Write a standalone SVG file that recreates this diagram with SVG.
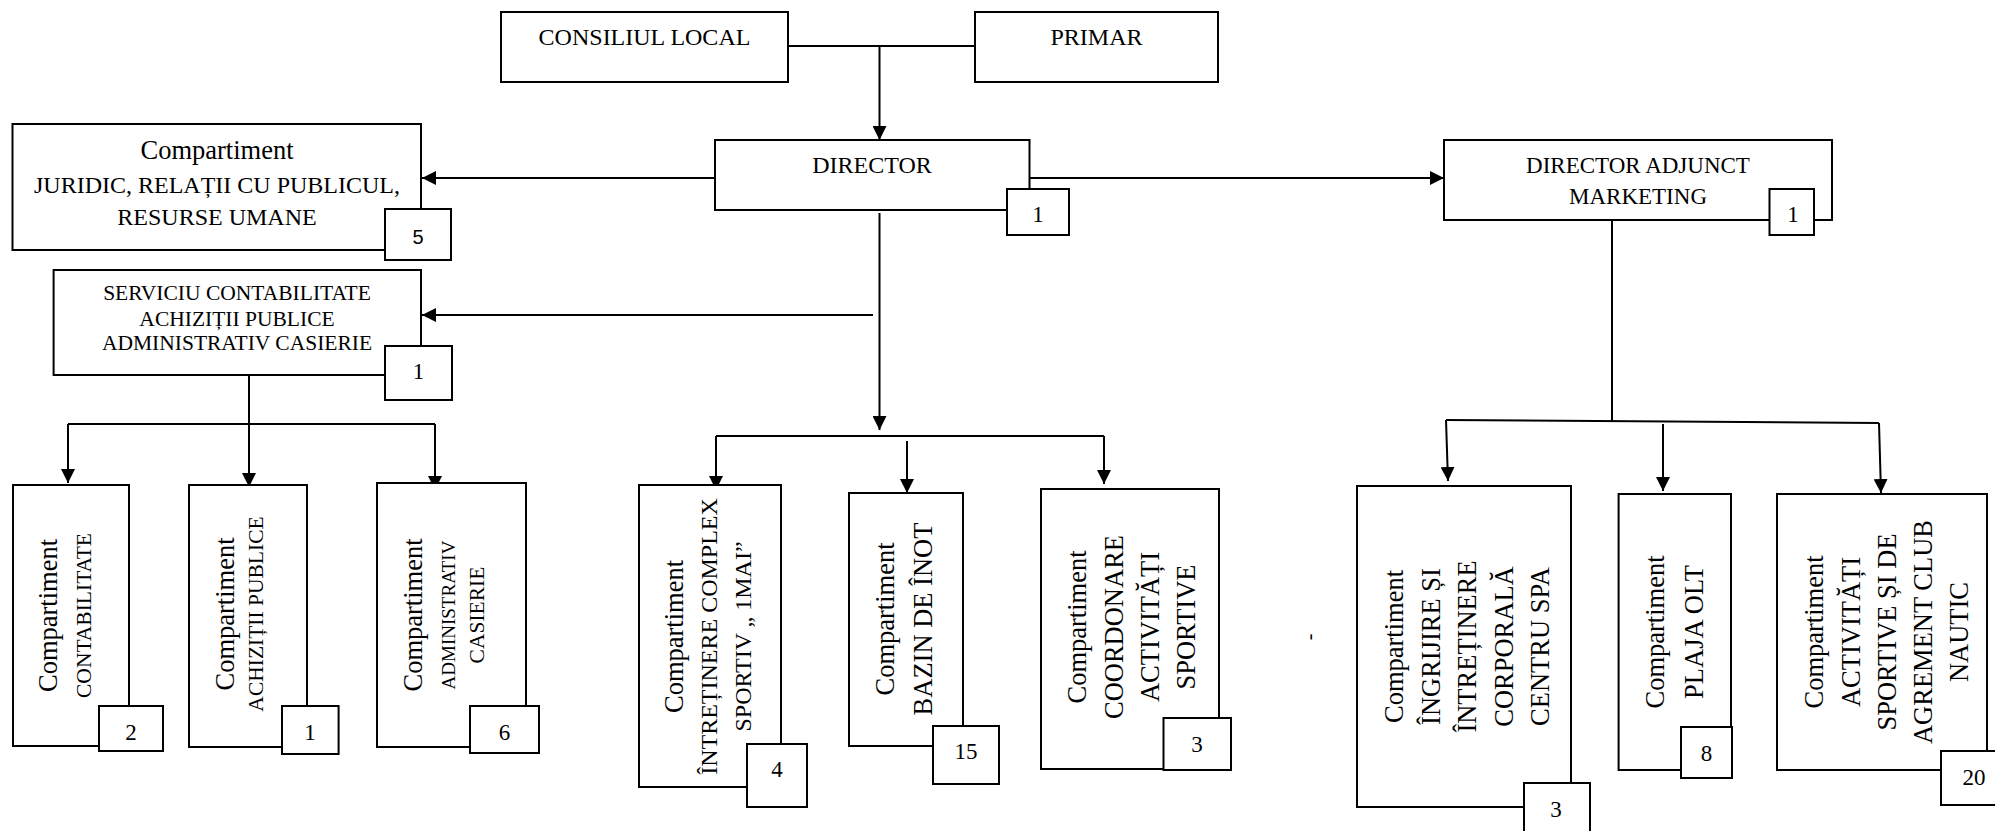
<svg xmlns="http://www.w3.org/2000/svg" width="1995" height="831" viewBox="0 0 1995 831">
<style>
.box{fill:#fff;stroke:#000;stroke-width:2}
.bd{fill:#fff;stroke:#000;stroke-width:2}
.ln{fill:none;stroke:#000;stroke-width:2}
.ar{fill:none;stroke:#000;stroke-width:2;marker-end:url(#ah)}
text{font-family:"Liberation Serif","Times New Roman",serif;fill:#000;text-anchor:middle}
.t24{font-size:24px}
.t23{font-size:23px}
.t26{font-size:26.5px}
.t21{font-size:21.5px}
.n{font-size:23px}
.ns{font-family:"Liberation Sans",Arial,sans-serif;font-size:20px}
</style>
<defs>
<marker id="ah" markerUnits="userSpaceOnUse" markerWidth="14" markerHeight="14" viewBox="0 0 14 14" refX="14" refY="7" orient="auto">
<path d="M0,0 L14,7 L0,14 z" fill="#000"/>
</marker>
</defs>
<rect width="1995" height="831" fill="#fff"/>

<g id="connectors">
<line class="ln" x1="788" y1="46" x2="975" y2="46"/>
<line class="ar" x1="879.5" y1="46" x2="879.5" y2="140"/>
<line class="ar" x1="715" y1="178" x2="422" y2="178"/>
<line class="ar" x1="1029.5" y1="178" x2="1444" y2="178"/>
<line class="ar" x1="879.5" y1="213" x2="879.5" y2="430"/>
<line class="ar" x1="873" y1="315" x2="422" y2="315"/>
<line class="ln" x1="716" y1="436" x2="1104" y2="436"/>
<line class="ar" x1="716" y1="436" x2="716" y2="490"/>
<line class="ar" x1="907" y1="441" x2="907" y2="493"/>
<line class="ar" x1="1104" y1="436" x2="1104" y2="484"/>
<line class="ar" x1="249" y1="375" x2="249" y2="487"/>
<line class="ln" x1="68" y1="424" x2="435" y2="424"/>
<line class="ar" x1="68" y1="424" x2="68" y2="483"/>
<line class="ar" x1="435" y1="424" x2="435" y2="490"/>
<line class="ln" x1="1612" y1="220" x2="1612" y2="421"/>
<line class="ln" x1="1446" y1="420" x2="1879" y2="423"/>
<line class="ar" x1="1446" y1="420" x2="1448" y2="481"/>
<line class="ar" x1="1663" y1="424" x2="1663" y2="491"/>
<line class="ar" x1="1879" y1="423" x2="1881" y2="493"/>
</g>

<g id="consiliul">
<rect class="box" x="501" y="12" width="287" height="70"/>
<text class="t24" x="644.5" y="45">CONSILIUL LOCAL</text>
</g>
<g id="primar">
<rect class="box" x="975" y="12" width="243" height="70"/>
<text class="t24" x="1096.5" y="45">PRIMAR</text>
</g>
<g id="director">
<rect class="box" x="715" y="140" width="314.5" height="70"/>
<text class="t24" x="872" y="173">DIRECTOR</text>
<rect class="bd" x="1007" y="189" width="62" height="46"/>
<text class="n" x="1038" y="222">1</text>
</g>
<g id="director-adjunct">
<rect class="box" x="1444" y="140" width="388" height="80"/>
<text class="t23" x="1638" y="173">DIRECTOR ADJUNCT</text>
<text class="t23" x="1638" y="204">MARKETING</text>
<rect class="bd" x="1769.5" y="189" width="44.5" height="46"/>
<text class="n" x="1793" y="222">1</text>
</g>
<g id="juridic">
<rect class="box" x="12.5" y="124" width="408.5" height="126"/>
<text class="t26" x="217" y="159">Compartiment</text>
<text class="t24" x="217" y="193">JURIDIC, RELAȚII CU PUBLICUL,</text>
<text class="t24" x="217" y="225">RESURSE UMANE</text>
<rect class="bd" x="385" y="209" width="66" height="51"/>
<text class="ns" x="418" y="244">5</text>
</g>
<g id="serviciu">
<rect class="box" x="53.6" y="270" width="367.4" height="105"/>
<text class="t21" x="237" y="300">SERVICIU CONTABILITATE</text>
<text class="t21" x="237" y="326">ACHIZIȚII PUBLICE</text>
<text class="t21" x="237" y="350">ADMINISTRATIV CASIERIE</text>
<rect class="bd" x="385" y="346" width="67" height="54"/>
<text class="n" x="418.5" y="379">1</text>
</g>

<g id="contabilitate">
<rect class="box" x="13" y="485" width="116" height="261"/>
<text class="t26" x="57" y="615.5" transform="rotate(-90 57 615.5)">Compartiment</text>
<text class="t21" x="91" y="615.5" transform="rotate(-90 91 615.5)">CONTABILITATE</text>
<rect class="bd" x="99" y="706" width="64" height="45"/>
<text class="n" x="131" y="740">2</text>
</g>
<g id="achizitii">
<rect class="box" x="189" y="485" width="118" height="262"/>
<text class="t26" x="234" y="614" transform="rotate(-90 234 614)">Compartiment</text>
<text class="t21" x="262.5" y="614" transform="rotate(-90 262.5 614)">ACHIZIȚII PUBLICE</text>
<rect class="bd" x="282" y="706" width="56.6" height="48"/>
<text class="n" x="310" y="740">1</text>
</g>
<g id="administrativ">
<rect class="box" x="377" y="483" width="149" height="264"/>
<text class="t26" x="421.5" y="615" transform="rotate(-90 421.5 615)">Compartiment</text>
<text x="455" y="615" style="font-size:19px" transform="rotate(-90 455 615)">ADMINISTRATIV</text>
<text class="t21" x="484" y="615" transform="rotate(-90 484 615)">CASIERIE</text>
<rect class="bd" x="470" y="706" width="69" height="47"/>
<text class="n" x="504.5" y="740">6</text>
</g>

<g id="intretinere">
<rect class="box" x="639" y="485" width="142" height="302"/>
<text class="t26" x="683" y="636.5" transform="rotate(-90 683 636.5)">Compartiment</text>
<text class="t24" x="717" y="636.5" transform="rotate(-90 717 636.5)">ÎNTREȚINERE COMPLEX</text>
<text class="t24" x="751" y="636.5" transform="rotate(-90 751 636.5)">SPORTIV „ 1MAI”</text>
<rect class="bd" x="747" y="744" width="60" height="63"/>
<text class="n" x="777" y="777">4</text>
</g>
<g id="bazin">
<rect class="box" x="849" y="493" width="114" height="253"/>
<text class="t26" x="893.5" y="619" transform="rotate(-90 893.5 619)">Compartiment</text>
<text class="t26" x="932" y="619" transform="rotate(-90 932 619)">BAZIN DE ÎNOT</text>
<rect class="bd" x="933" y="726" width="66" height="58"/>
<text class="n" x="966" y="759">15</text>
</g>
<g id="coordonare">
<rect class="box" x="1041" y="489" width="178" height="280"/>
<text class="t26" x="1086" y="627" transform="rotate(-90 1086 627)">Compartiment</text>
<text class="t26" x="1123" y="627" transform="rotate(-90 1123 627)">COORDONARE</text>
<text class="t26" x="1159" y="627" transform="rotate(-90 1159 627)">ACTIVITĂȚI</text>
<text class="t26" x="1195" y="627" transform="rotate(-90 1195 627)">SPORTIVE</text>
<rect class="bd" x="1163.5" y="718" width="67.5" height="52"/>
<text class="n" x="1197" y="752">3</text>
</g>

<text x="1316" y="637" style="font-size:20px" transform="rotate(-90 1316 637)">-</text>

<g id="ingrijire">
<rect class="box" x="1357" y="486" width="214" height="321"/>
<text class="t26" x="1403" y="646.5" transform="rotate(-90 1403 646.5)">Compartiment</text>
<text class="t26" x="1439.5" y="646.5" transform="rotate(-90 1439.5 646.5)">ÎNGRIJIRE ȘI</text>
<text class="t26" x="1476" y="646.5" transform="rotate(-90 1476 646.5)">ÎNTREȚINERE</text>
<text class="t26" x="1512.5" y="646.5" transform="rotate(-90 1512.5 646.5)">CORPORALĂ</text>
<text class="t26" x="1549" y="646.5" transform="rotate(-90 1549 646.5)">CENTRU SPA</text>
<rect class="bd" x="1524" y="783" width="66" height="60"/>
<text class="n" x="1556" y="817">3</text>
</g>
<g id="plaja">
<rect class="box" x="1618.6" y="494" width="112.4" height="276"/>
<text class="t26" x="1664" y="632" transform="rotate(-90 1664 632)">Compartiment</text>
<text class="t26" x="1703" y="632" transform="rotate(-90 1703 632)">PLAJA OLT</text>
<rect class="bd" x="1681" y="727" width="51" height="51"/>
<text class="n" x="1706.5" y="761">8</text>
</g>
<g id="activitati">
<rect class="box" x="1777" y="494" width="210" height="276"/>
<text class="t26" x="1823" y="632" transform="rotate(-90 1823 632)">Compartiment</text>
<text class="t26" x="1860" y="632" transform="rotate(-90 1860 632)">ACTIVITĂȚI</text>
<text class="t26" x="1896" y="632" transform="rotate(-90 1896 632)">SPORTIVE ȘI DE</text>
<text class="t26" x="1932" y="632" transform="rotate(-90 1932 632)">AGREMENT CLUB</text>
<text class="t26" x="1968" y="632" transform="rotate(-90 1968 632)">NAUTIC</text>
<rect class="bd" x="1941" y="751" width="70" height="54"/>
<text class="n" x="1974" y="785">20</text>
</g>
</svg>
